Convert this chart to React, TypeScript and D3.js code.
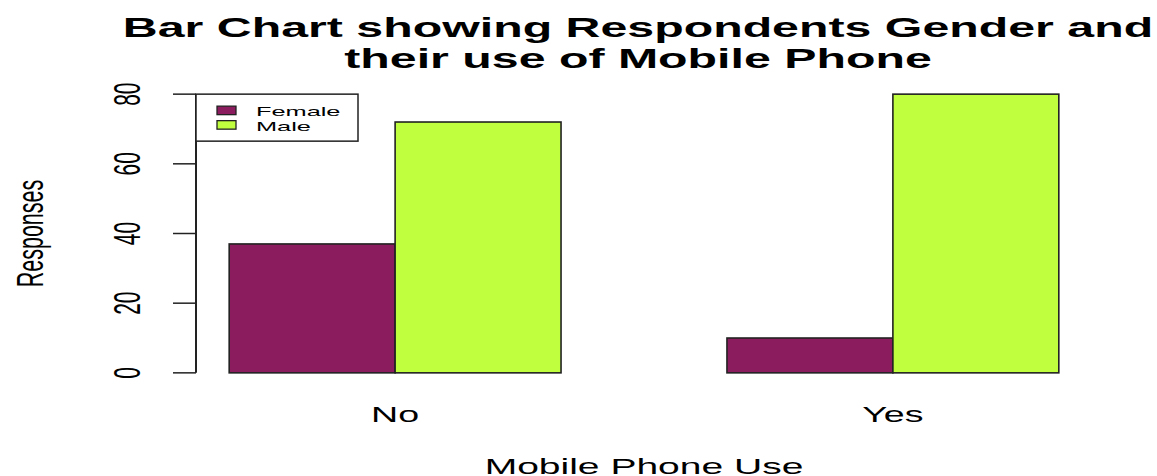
import React from "react";
import * as d3 from "d3";

const categories = ["No", "Yes"];
const genders = ["Female", "Male"];
const femaleValues = [37, 10];
const maleValues = [72, 80];
const yTicks = [0, 20, 40, 60, 80];
const colors = ["#8B1C5E", "#C0FF3E"];
const titleLines = ["Bar Chart showing Respondents Gender and", "their use of Mobile Phone"];
const xLabel = "Mobile Phone Use";
const yLabel = "Responses";

const W = 1157;
const H = 476;
const SX = 1.75;
const SX_LEG = 1.95;
const FONT = "'Liberation Sans', Arial, Helvetica, sans-serif";

export default function App() {
  const left = 196, right = 1092, top = 83, bottom = 384;
  const x0 = d3.scaleBand<string>().domain(categories).range([left, right]).paddingInner(1 / 3).paddingOuter(0.2 / 3);
  const x1 = d3.scaleBand<string>().domain(genders).range([0, x0.bandwidth()]).padding(0);
  const y = d3.scaleLinear().domain([-3.2, 83.2]).range([bottom, top]);
  const series = [femaleValues, maleValues];
  const cx = (left + right) / 2;
  const cy = (top + bottom) / 2;

  const stretched = (x: number, y0: number, rot = false, sx = SX) =>
    `translate(${x},${y0}) scale(${sx},1)${rot ? " rotate(-90)" : ""}`;

  const legX = left, legY = y(80);
  return (
    <svg width={W} height={H} style={{ position: "absolute", left: 0, top: 0, background: "#fff" }}>
      <rect x={0} y={0} width={W} height={H} fill="#fff" />
      {/* title */}
      {titleLines.map((t, i) => (
        <text key={t} transform={stretched(638, 37 + i * 31)} textAnchor="middle" fontFamily={FONT} fontWeight="bold" fontSize={27.6} fill="#000">
          {t}
        </text>
      ))}
      {/* bars */}
      {categories.map((c, ci) => (
        <g key={c} transform={`translate(${x0(c)},0)`}>
          {genders.map((g, gi) => {
            const v = series[gi][ci];
            return (
              <rect key={g} x={x1(g)} y={y(v)} width={x1.bandwidth()} height={y(0) - y(v)} fill={colors[gi]} stroke="#222" strokeWidth={1.6} />
            );
          })}
        </g>
      ))}
      {/* y axis */}
      <line x1={left} x2={left} y1={y(0)} y2={y(80)} stroke="#222" strokeWidth={2} />
      {yTicks.map((t) => (
        <g key={t}>
          <line x1={left - 23} x2={left} y1={y(t)} y2={y(t)} stroke="#222" strokeWidth={1.5} />
          <text transform={stretched(left - 56, y(t), true)} textAnchor="middle" fontFamily={FONT} fontSize={21} fill="#000">
            {t}
          </text>
        </g>
      ))}
      {/* x category labels */}
      {categories.map((c) => (
        <text key={c} transform={stretched((x0(c) as number) + x0.bandwidth() / 2, 422)} textAnchor="middle" fontFamily={FONT} fontSize={21.5} fill="#000">
          {c}
        </text>
      ))}
      {/* axis titles */}
      <text transform={stretched(cx, 473.5)} textAnchor="middle" fontFamily={FONT} fontSize={22.3} fill="#000">
        {xLabel}
      </text>
      <text transform={stretched(43, cy, true)} textAnchor="middle" fontFamily={FONT} fontSize={21.5} fill="#000">
        {yLabel}
      </text>
      {/* legend */}
      <rect x={legX} y={legY} width={162} height={47} fill="#fff" stroke="#222" strokeWidth={1.5} />
      {genders.map((g, i) => (
        <g key={g}>
          <rect x={legX + 21} y={legY + 12 + i * 14.5} width={19} height={8.5} fill={colors[i]} stroke="#222" strokeWidth={1.3} />
          <text transform={stretched(legX + 60, legY + 22 + i * 14.8, false, SX_LEG)} fontFamily={FONT} fontSize={13} fill="#000">
            {g}
          </text>
        </g>
      ))}
    </svg>
  );
}
